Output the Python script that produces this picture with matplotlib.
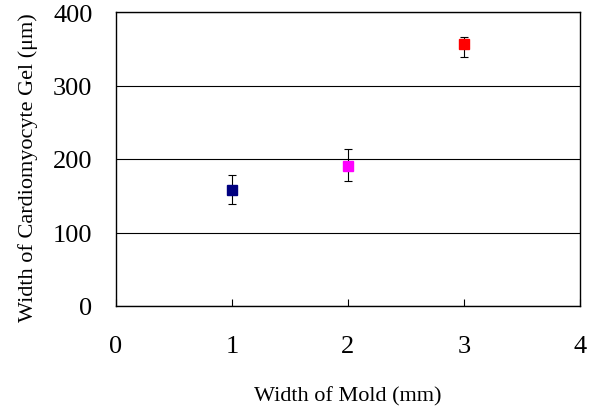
import numpy as np
import matplotlib.pyplot as plt

plt.rcParams['font.family'] = ['Liberation Serif', 'DejaVu Serif']

# Data
mold_width = [1, 2, 3]
gel_width = [158, 191, 356]
err_low = [19, 21, 17]
err_high = [20, 22, 10]
colors = ['#000080', '#FF00FF', '#FF0000']

fig = plt.figure(figsize=(5.97, 4.10), dpi=100)
ax = fig.add_axes([116 / 597, 103 / 410, 464 / 597, 294 / 410])

for x, y, lo, hi, c in zip(mold_width, gel_width, err_low, err_high, colors):
    ax.errorbar(x, y, yerr=[[lo], [hi]], fmt='none', ecolor='black',
                elinewidth=0.8, capsize=3, capthick=0.8, zorder=2)
    ax.plot(x, y, marker='s', color=c, markersize=7, linestyle='none', zorder=3)

ax.set_xlim(0, 4)
ax.set_ylim(0, 400)
ax.set_xticks([0, 1, 2, 3, 4])
ax.set_yticks([0, 100, 200, 300, 400])
ax.yaxis.grid(True, color='black', linewidth=0.8)
ax.set_axisbelow(True)

ax.tick_params(axis='x', direction='in', length=5, width=0.8, pad=21, labelsize=19)
ax.tick_params(axis='y', direction='in', length=0, pad=17, labelsize=19)
for s in ax.spines.values():
    s.set_linewidth(1.0)

ax.set_xlabel('Width of Mold (mm)', fontsize=16, labelpad=21)
ax.set_ylabel('Width of Cardiomyocyte Gel (μm)', fontsize=16, labelpad=11)
ax.yaxis.label.set_y(0.475)

fig.savefig('out.png', dpi=100)
